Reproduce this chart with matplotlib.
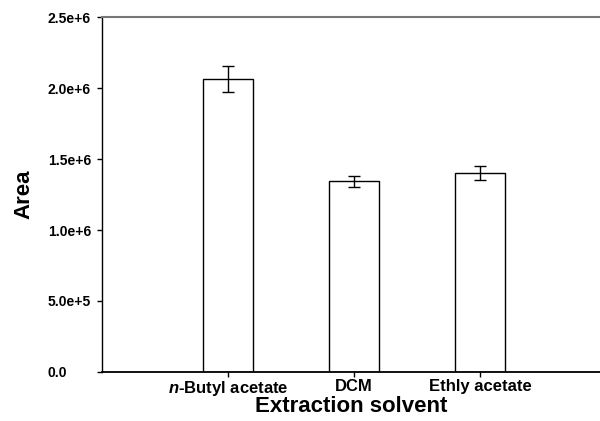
import matplotlib.pyplot as plt

solvents = ['n-Butyl acetate', 'DCM', 'Ethly acetate']
tick_labels = [r'$\bfit{n}$-Butyl acetate', 'DCM', 'Ethly acetate']
area = [2.063e6, 1.343e6, 1.402e6]
err = [0.093e6, 0.040e6, 0.050e6]
yticks = [0, 5e5, 1e6, 1.5e6, 2e6, 2.5e6]
ytick_labels = ['0.0', '5.0e+5', '1.0e+6', '1.5e+6', '2.0e+6', '2.5e+6']

plt.rcParams['font.family'] = ['Liberation Sans', 'DejaVu Sans']
plt.rcParams['font.weight'] = 'bold'
plt.rcParams['mathtext.fontset'] = 'custom'
plt.rcParams['mathtext.bfit'] = 'Liberation Sans:italic:bold'

fig = plt.figure(figsize=(6, 4.21), dpi=100)
ax = fig.add_axes([0.17, 0.1164, 0.83, 0.8432])

x = [1, 2, 3]
ax.bar(x, area, width=0.4, color='white', edgecolor='black', linewidth=1.0, zorder=2)
ax.errorbar(x, area, yerr=err, fmt='none', ecolor='black', elinewidth=1.0,
            capsize=4, capthick=1.0, zorder=3)

ax.set_xlim(0, 3.95)
ax.set_ylim(0, 2.5e6)
ax.set_xticks(x)
ax.set_xticklabels(tick_labels, fontsize=12, fontweight='bold')
ax.set_yticks(yticks)
ax.set_yticklabels(ytick_labels, fontsize=10, fontweight='bold')
for lab in ax.get_yticklabels():
    lab.set_horizontalalignment('left')

ax.tick_params(axis='y', direction='out', length=3.6, width=1.0, pad=35.3)
ax.tick_params(axis='x', direction='out', length=3.6, width=1.0, pad=1.5)

ax.spines['right'].set_visible(False)
ax.spines['top'].set_color('#777777')
ax.spines['top'].set_linewidth(1.5)
ax.spines['left'].set_linewidth(1.0)
ax.spines['bottom'].set_linewidth(1.3)

ax.set_xlabel('Extraction solvent', fontsize=16, fontweight='bold', labelpad=-1.5)
ax.set_ylabel('Area', fontsize=16, fontweight='bold', labelpad=10)
ax.yaxis.set_label_coords(-0.135, 0.5)

fig.savefig('out.png', dpi=100)
